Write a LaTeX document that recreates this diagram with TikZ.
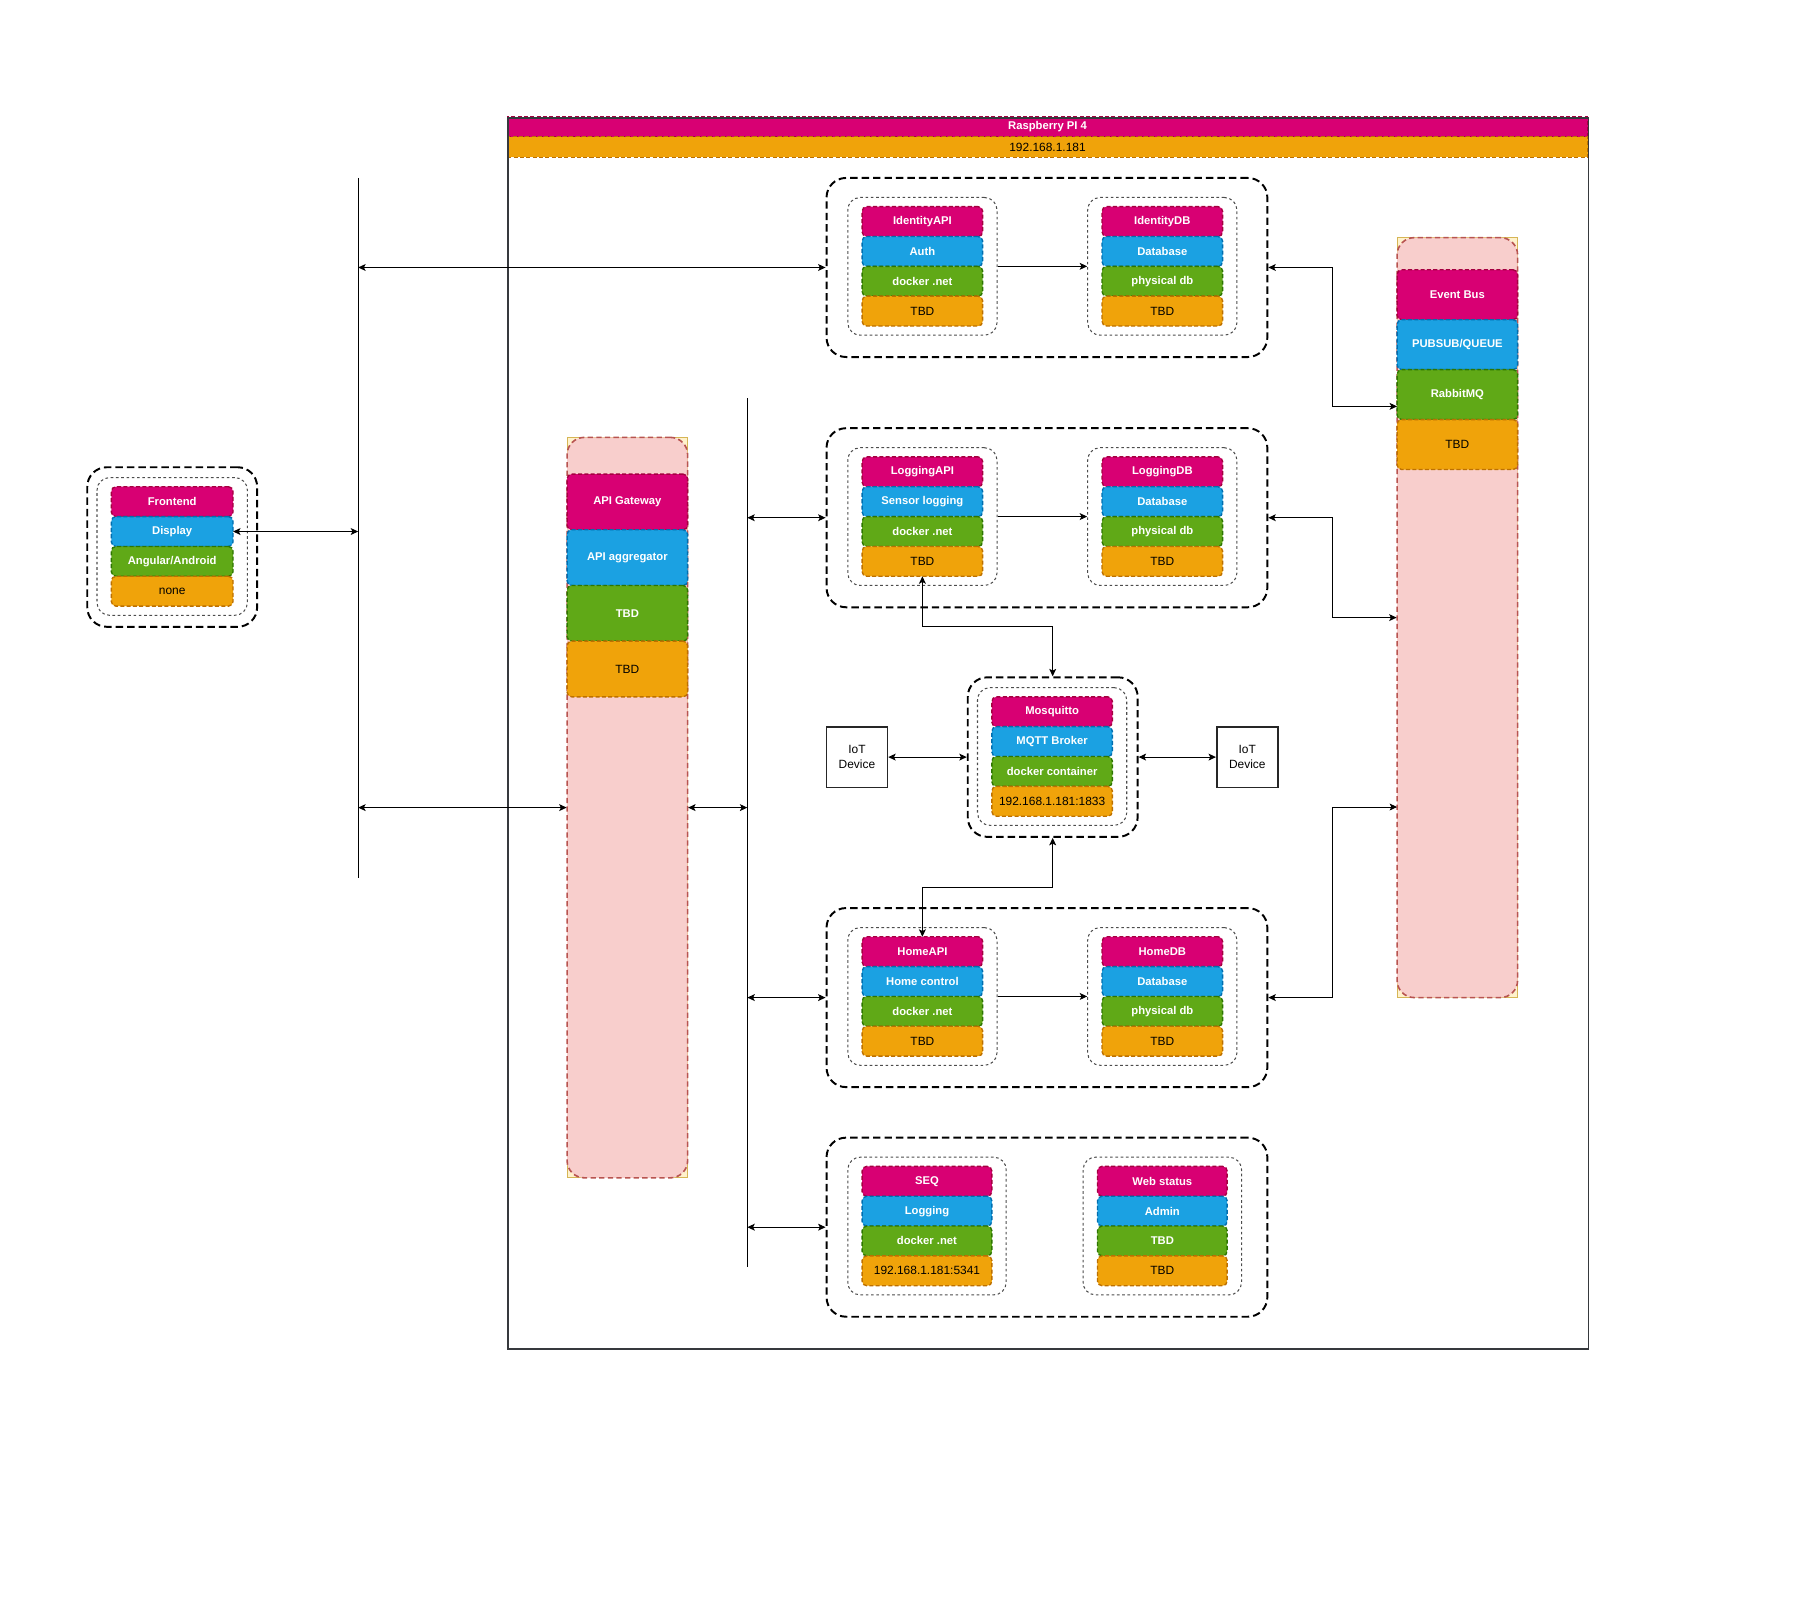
\documentclass[tikz,border=0pt]{standalone}
\usepackage{fontspec}
\setmainfont{Liberation Sans}
\usetikzlibrary{positioning,fit,arrows.meta}

\definecolor{magfill}{HTML}{D80073}
\definecolor{magline}{HTML}{A50040}
\definecolor{blufill}{HTML}{1BA1E2}
\definecolor{bluline}{HTML}{006EAF}
\definecolor{grnfill}{HTML}{60A917}
\definecolor{grnline}{HTML}{2D7600}
\definecolor{orgfill}{HTML}{F0A30A}
\definecolor{orgline}{HTML}{BD7000}
\definecolor{colfill}{HTML}{F8CECC}
\definecolor{colline}{HTML}{B85450}
\definecolor{yelfill}{HTML}{FFF2CC}
\definecolor{yelline}{HTML}{D6B656}
\definecolor{rpiline}{HTML}{36393D}

\tikzset{
  layer/.style={draw, dash pattern=on 3.5pt off 2pt, line width=1.2pt,
    rounded corners=4pt, minimum width=105pt, minimum height=26pt,
    inner sep=0pt, outer sep=0pt, text=white,
    font=\fontsize{9.8}{11}\selectfont\bfseries},
  mag/.style={layer, fill=magfill, draw=magline},
  blu/.style={layer, fill=blufill, draw=bluline},
  grn/.style={layer, fill=grnfill, draw=grnline},
  org/.style={layer, fill=orgfill, draw=orgline, text=black,
    font=\fontsize{10.4}{12}\selectfont},
  hdr/.style={rounded corners=0pt, minimum width=941pt},
  grp/.style={draw, dash pattern=on 6.5pt off 3.5pt, line width=1.7pt,
    rounded corners=17pt, inner sep=0pt},
  sub/.style={draw=black!70, dash pattern=on 2.3pt off 2.3pt, line width=0.9pt,
    rounded corners=11pt, inner xsep=12.5pt, inner ysep=8pt},
  colbox/.style={draw=yelline, fill=yelfill, line width=0.8pt,
    minimum width=105pt, inner sep=0pt},
  colrnd/.style={draw=colline, fill=colfill, dash pattern=on 4.6pt off 2.9pt,
    line width=1.4pt, rounded corners=15pt, minimum width=105pt, inner sep=0pt},
  dev/.style={draw=black!85, line width=1.5pt, minimum size=53pt, inner sep=0pt,
    align=center, font=\fontsize{10.4}{12.5}\selectfont},
  both/.style={<->, line width=0.9pt},
  one/.style={->, line width=0.9pt},
}

\begin{document}
\begin{tikzpicture}[x=1pt, y=-1pt, >={Stealth[length=6.5pt, width=6pt, inset=1.5pt]}]
\useasboundingbox (0,0) rectangle (1568,1401);

% raspberry pi frame
\node[mag, hdr, minimum height=17pt, anchor=north west] (rpitop) at (442,102) {Raspberry PI 4};
\node[org, hdr, minimum height=18pt, below=0pt of rpitop] (rpiip) {192.168.1.181};
\node[draw=rpiline, line width=1.6pt, minimum width=941pt, minimum height=1072pt,
  anchor=north west] (rpi) at (442,102) {};

% frontend
\node[mag, minimum width=106pt] (fe1) at (150,437) {Frontend};
\node[blu, minimum width=106pt, below=0pt of fe1] (fe2) {Display};
\node[grn, minimum width=106pt, below=0pt of fe2] (fe3) {Angular/Android};
\node[org, minimum width=106pt, below=0pt of fe3] (fe4) {none};
\node[sub, fit=(fe1)(fe4)] (fesub) {};
\node[grp, minimum width=148pt, minimum height=139pt] (fegrp) at (150,476.5) {};

% api gateway
\node[colbox, minimum height=645pt] (gwcol) at (546.5,703.5) {};
\node[colrnd, minimum height=645pt] (gwbg) at (gwcol) {};
\node[mag, minimum height=48.5pt] (gw1) at (546.5,437.25) {API Gateway};
\node[blu, minimum height=48.5pt, below=0pt of gw1] (gw2) {API aggregator};
\node[grn, minimum height=48.5pt, below=0pt of gw2] (gw3) {TBD};
\node[org, minimum height=48.5pt, below=0pt of gw3] (gw4) {TBD};

% event bus
\node[colbox, minimum height=662pt] (ebcol) at (1269.5,538) {};
\node[colrnd, minimum height=662pt] (ebbg) at (ebcol) {};
\node[mag, minimum height=43.5pt] (eb1) at (1269.5,256.75) {Event Bus};
\node[blu, minimum height=43.5pt, below=0pt of eb1] (eb2) {PUBSUB/QUEUE};
\node[grn, minimum height=43.5pt, below=0pt of eb2] (eb3) {RabbitMQ};
\node[org, minimum height=43.5pt, below=0pt of eb3] (eb4) {TBD};

% identity
\node[mag] (id1) at (803.5,193) {IdentityAPI};
\node[blu, below=0pt of id1] (id2) {Auth};
\node[grn, below=0pt of id2] (id3) {docker .net};
\node[org, below=0pt of id3] (id4) {TBD};
\node[sub, fit=(id1)(id4)] (idsub1) {};
\node[mag] (iddb1) at (1012.5,193) {IdentityDB};
\node[blu, below=0pt of iddb1] (iddb2) {Database};
\node[grn, below=0pt of iddb2] (iddb3) {physical db};
\node[org, below=0pt of iddb3] (iddb4) {TBD};
\node[sub, fit=(iddb1)(iddb4)] (idsub2) {};
\node[grp, minimum width=384pt, minimum height=156pt] (idgrp) at (912,233) {};

% logging
\node[mag] (lg1) at (803.5,411) {LoggingAPI};
\node[blu, below=0pt of lg1] (lg2) {Sensor logging};
\node[grn, below=0pt of lg2] (lg3) {docker .net};
\node[org, below=0pt of lg3] (lg4) {TBD};
\node[sub, fit=(lg1)(lg4)] (lgsub1) {};
\node[mag] (lgdb1) at (1012.5,411) {LoggingDB};
\node[blu, below=0pt of lgdb1] (lgdb2) {Database};
\node[grn, below=0pt of lgdb2] (lgdb3) {physical db};
\node[org, below=0pt of lgdb3] (lgdb4) {TBD};
\node[sub, fit=(lgdb1)(lgdb4)] (lgsub2) {};
\node[grp, minimum width=384pt, minimum height=156pt] (loggrp) at (912,451) {};

% mosquitto
\node[mag] (mq1) at (916.5,620) {Mosquitto};
\node[blu, below=0pt of mq1] (mq2) {MQTT Broker};
\node[grn, below=0pt of mq2] (mq3) {docker container};
\node[org, below=0pt of mq3] (mq4) {192.168.1.181:1833};
\node[sub, fit=(mq1)(mq4)] (mqsub) {};
\node[grp, minimum width=148pt, minimum height=139pt] (mqgrp) at (917,659.5) {};
\node[dev] (iot1) at (746.5,659.5) {IoT\\Device};
\node[dev] (iot2) at (1086.5,659.5) {IoT\\Device};

% home
\node[mag] (hm1) at (803.5,829) {HomeAPI};
\node[blu, below=0pt of hm1] (hm2) {Home control};
\node[grn, below=0pt of hm2] (hm3) {docker .net};
\node[org, below=0pt of hm3] (hm4) {TBD};
\node[sub, fit=(hm1)(hm4)] (hmsub1) {};
\node[mag] (hmdb1) at (1012.5,829) {HomeDB};
\node[blu, below=0pt of hmdb1] (hmdb2) {Database};
\node[grn, below=0pt of hmdb2] (hmdb3) {physical db};
\node[org, below=0pt of hmdb3] (hmdb4) {TBD};
\node[sub, fit=(hmdb1)(hmdb4)] (hmsub2) {};
\node[grp, minimum width=384pt, minimum height=156pt] (homegrp) at (912,869) {};

% seq and web status
\node[mag, minimum width=113pt] (sq1) at (807.5,1029) {SEQ};
\node[blu, minimum width=113pt, below=0pt of sq1] (sq2) {Logging};
\node[grn, minimum width=113pt, below=0pt of sq2] (sq3) {docker .net};
\node[org, minimum width=113pt, below=0pt of sq3] (sq4) {192.168.1.181:5341};
\node[sub, fit=(sq1)(sq4)] (sqsub) {};
\node[mag, minimum width=113pt] (ws1) at (1012.5,1029) {Web status};
\node[blu, minimum width=113pt, below=0pt of ws1] (ws2) {Admin};
\node[grn, minimum width=113pt, below=0pt of ws2] (ws3) {TBD};
\node[org, minimum width=113pt, below=0pt of ws3] (ws4) {TBD};
\node[sub, fit=(ws1)(ws4)] (wssub) {};
\node[grp, minimum width=384pt, minimum height=156pt] (seqgrp) at (912,1069) {};

% bus lines
\coordinate (busa) at (312,155);
\coordinate (busb) at (312,765);
\coordinate (busc) at (651,347);
\coordinate (busd) at (651,1104);
\coordinate (ebin1) at (1217,354);
\coordinate (ebin3) at (1217,703);
\draw[line width=0.9pt] (busa) -- (busb);
\draw[line width=0.9pt] (busc) -- (busd);

% connectors
\draw[both] (fe2.east) -- (fe2.east -| busa);
\draw[both] (busa |- idgrp.west) -- (idgrp.west);
\draw[both] (busa |- gwcol.west) -- (gwcol.west);
\draw[both] (gwcol.east) -- (gwcol.east -| busc);
\draw[both] (busc |- loggrp.west) -- (loggrp.west);
\draw[both] (busc |- homegrp.west) -- (homegrp.west);
\draw[both] (busc |- seqgrp.west) -- (seqgrp.west);
\draw[one] (idsub1.east) -- (idsub2.west);
\draw[one] (lgsub1.east) -- (lgsub2.west);
\draw[one] (hmsub1.east) -- (hmsub2.west);
\draw[both] (lg4.south) -- ++(0,44) -| (mqgrp.north);
\draw[both] (mqgrp.south) -- ++(0,43.5) -| (hm1.north);
\draw[both] (iot1.east) -- (mqgrp.west);
\draw[both] (mqgrp.east) -- (iot2.west);
\draw[both] (idgrp.east) -- ++(56,0) |- (ebin1);
\draw[both] (loggrp.east) -- ++(56,0) |- (ebcol.west);
\draw[both] (homegrp.east) -- ++(56,0) |- (ebin3);
\end{tikzpicture}
\end{document}
